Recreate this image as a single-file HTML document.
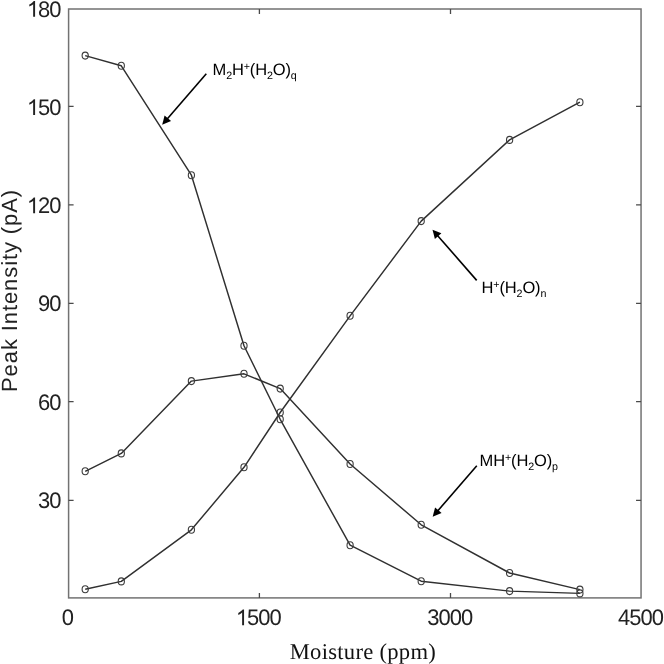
<!DOCTYPE html>
<html><head><meta charset="utf-8"><title>Peak Intensity vs Moisture</title>
<style>html,body{margin:0;padding:0;background:#fff;width:664px;height:664px;overflow:hidden}svg{display:block;will-change:transform;text-rendering:geometricPrecision}</style>
</head><body>
<svg width="664" height="664" viewBox="0 0 664 664">
<rect width="664" height="664" fill="#fff"/>
<rect x="68.6" y="9" width="572.45" height="588.9" fill="none" stroke="#727272" stroke-width="1.5"/>
<path d="M259.4 597.9V592.9M259.4 9V14M450.5 597.9V592.9M450.5 9V14M68.6 106.3H73.6M641.05 106.3H636.05M68.6 204.9H73.6M641.05 204.9H636.05M68.6 303.3H73.6M641.05 303.3H636.05M68.6 401.7H73.6M641.05 401.7H636.05M68.6 500.3H73.6M641.05 500.3H636.05" stroke="#4a4a4a" stroke-width="1.3" fill="none"/>
<polyline points="85.2,55.6 121.3,65.8 191.4,175.2 244,345.8 280.2,419.3 350.1,545.2 421.2,581.2 509.6,591.1 579.9,593.4" fill="none" stroke="#303030" stroke-width="1.45" stroke-linejoin="round"/>
<polyline points="85.2,589.2 121.3,581.4 191.4,529.8 244,467.3 280.2,412.5 350.1,315.8 421.2,221.1 509.6,139.9 579.9,102.2" fill="none" stroke="#303030" stroke-width="1.45" stroke-linejoin="round"/>
<polyline points="85.2,471.3 121.3,453.4 191.4,381.1 244,373.8 280.2,388.6 350.1,464 421.2,524.8 509.6,573 579.9,589.6" fill="none" stroke="#303030" stroke-width="1.45" stroke-linejoin="round"/>
<g fill="none" stroke="#3c3c3c" stroke-width="1.1"><ellipse cx="85.2" cy="55.6" rx="3.1" ry="3.5"/><ellipse cx="121.3" cy="65.8" rx="3.1" ry="3.5"/><ellipse cx="191.4" cy="175.2" rx="3.1" ry="3.5"/><ellipse cx="244" cy="345.8" rx="3.1" ry="3.5"/><ellipse cx="280.2" cy="419.3" rx="3.1" ry="3.5"/><ellipse cx="350.1" cy="545.2" rx="3.1" ry="3.5"/><ellipse cx="421.2" cy="581.2" rx="3.1" ry="3.5"/><ellipse cx="509.6" cy="591.1" rx="3.1" ry="3.5"/><ellipse cx="579.9" cy="593.4" rx="3.1" ry="3.5"/><ellipse cx="85.2" cy="589.2" rx="3.1" ry="3.5"/><ellipse cx="121.3" cy="581.4" rx="3.1" ry="3.5"/><ellipse cx="191.4" cy="529.8" rx="3.1" ry="3.5"/><ellipse cx="244" cy="467.3" rx="3.1" ry="3.5"/><ellipse cx="280.2" cy="412.5" rx="3.1" ry="3.5"/><ellipse cx="350.1" cy="315.8" rx="3.1" ry="3.5"/><ellipse cx="421.2" cy="221.1" rx="3.1" ry="3.5"/><ellipse cx="509.6" cy="139.9" rx="3.1" ry="3.5"/><ellipse cx="579.9" cy="102.2" rx="3.1" ry="3.5"/><ellipse cx="85.2" cy="471.3" rx="3.1" ry="3.5"/><ellipse cx="121.3" cy="453.4" rx="3.1" ry="3.5"/><ellipse cx="191.4" cy="381.1" rx="3.1" ry="3.5"/><ellipse cx="244" cy="373.8" rx="3.1" ry="3.5"/><ellipse cx="280.2" cy="388.6" rx="3.1" ry="3.5"/><ellipse cx="350.1" cy="464" rx="3.1" ry="3.5"/><ellipse cx="421.2" cy="524.8" rx="3.1" ry="3.5"/><ellipse cx="509.6" cy="573" rx="3.1" ry="3.5"/><ellipse cx="579.9" cy="589.6" rx="3.1" ry="3.5"/></g>
<g font-family="Liberation Sans, sans-serif" font-size="22.5" fill="#222222"><path transform="translate(26.91,16.74) scale(0.01071,-0.01099)" d="M763 0L583 0L583 1147C540 1106 483 1065 413 1024C343 983 280 952 223 931L223 1105C323 1152 410 1209 484 1276C558 1343 610 1400 640 1430L763 1430Z"/><text transform="translate(38.11,16.74) scale(0.975,1)">8</text><text transform="translate(49.31,16.74) scale(0.975,1)">0</text><path transform="translate(26.91,114.94) scale(0.01071,-0.01099)" d="M763 0L583 0L583 1147C540 1106 483 1065 413 1024C343 983 280 952 223 931L223 1105C323 1152 410 1209 484 1276C558 1343 610 1400 640 1430L763 1430Z"/><text transform="translate(38.11,114.94) scale(0.975,1)">5</text><text transform="translate(49.31,114.94) scale(0.975,1)">0</text><path transform="translate(26.91,213.24) scale(0.01071,-0.01099)" d="M763 0L583 0L583 1147C540 1106 483 1065 413 1024C343 983 280 952 223 931L223 1105C323 1152 410 1209 484 1276C558 1343 610 1400 640 1430L763 1430Z"/><text transform="translate(38.11,213.24) scale(0.975,1)">2</text><text transform="translate(49.31,213.24) scale(0.975,1)">0</text><text transform="translate(38.11,311.44) scale(0.975,1)">9</text><text transform="translate(49.31,311.44) scale(0.975,1)">0</text><text transform="translate(38.11,409.64) scale(0.975,1)">6</text><text transform="translate(49.31,409.64) scale(0.975,1)">0</text><text transform="translate(38.11,507.94) scale(0.975,1)">3</text><text transform="translate(49.31,507.94) scale(0.975,1)">0</text><text transform="translate(61.8,625.14) scale(0.975,1)">0</text><path transform="translate(235.88,625.14) scale(0.01071,-0.01099)" d="M763 0L583 0L583 1147C540 1106 483 1065 413 1024C343 983 280 952 223 931L223 1105C323 1152 410 1209 484 1276C558 1343 610 1400 640 1430L763 1430Z"/><text transform="translate(247.08,625.14) scale(0.975,1)">5</text><text transform="translate(258.28,625.14) scale(0.975,1)">0</text><text transform="translate(269.48,625.14) scale(0.975,1)">0</text><text transform="translate(427.36,625.14) scale(0.975,1)">3</text><text transform="translate(438.56,625.14) scale(0.975,1)">0</text><text transform="translate(449.76,625.14) scale(0.975,1)">0</text><text transform="translate(460.96,625.14) scale(0.975,1)">0</text><text transform="translate(618.03,625.14) scale(0.975,1)">4</text><text transform="translate(629.23,625.14) scale(0.975,1)">5</text><text transform="translate(640.43,625.14) scale(0.975,1)">0</text><text transform="translate(651.63,625.14) scale(0.975,1)">0</text></g>
<text x="289.72" y="658.5" font-family="Liberation Serif, serif" font-size="22.6" letter-spacing="0.28" fill="#111">Moisture (ppm)</text>
<text transform="translate(16.9,391.96) rotate(-90)" x="0" y="0" font-family="Liberation Sans, sans-serif" font-size="22.0" letter-spacing="0.9" fill="#222222">Peak Intensity (pA)</text>
<g font-family="Liberation Sans, sans-serif" font-size="16.5" letter-spacing="-0.15" fill="#000"><text x="212.58" y="74.7"><tspan>M</tspan><tspan font-size="10.7" dy="3.8">2</tspan><tspan dy="-3.8">H</tspan><tspan font-size="10.7" dy="-4.6">+</tspan><tspan dy="4.6">(H</tspan><tspan font-size="10.7" dy="3.8">2</tspan><tspan dy="-3.8">O)</tspan><tspan font-size="10.7" dy="3.8">q</tspan></text><text x="481.58" y="292.7"><tspan>H</tspan><tspan font-size="10.7" dy="-4.6">+</tspan><tspan dy="4.6">(H</tspan><tspan font-size="10.7" dy="3.8">2</tspan><tspan dy="-3.8">O)</tspan><tspan font-size="10.7" dy="3.8">n</tspan></text><text x="479.58" y="465.7"><tspan>M</tspan><tspan>H</tspan><tspan font-size="10.7" dy="-4.6">+</tspan><tspan dy="4.6">(H</tspan><tspan font-size="10.7" dy="3.8">2</tspan><tspan dy="-3.8">O)</tspan><tspan font-size="10.7" dy="3.8">p</tspan></text></g>
<line x1="206.3" y1="73.8" x2="167.18" y2="118.96" stroke="#000" stroke-width="1.6"/><polygon points="162.2,124.7 164.58,115.38 171.08,121.02" fill="#000"/>
<line x1="476.7" y1="280.4" x2="437.49" y2="235.43" stroke="#000" stroke-width="1.6"/><polygon points="432.5,229.7 441.39,233.36 434.91,239.01" fill="#000"/>
<line x1="476.8" y1="465.8" x2="437.68" y2="510.96" stroke="#000" stroke-width="1.6"/><polygon points="432.7,516.7 435.08,507.38 441.58,513.02" fill="#000"/>
</svg>
</body></html>
